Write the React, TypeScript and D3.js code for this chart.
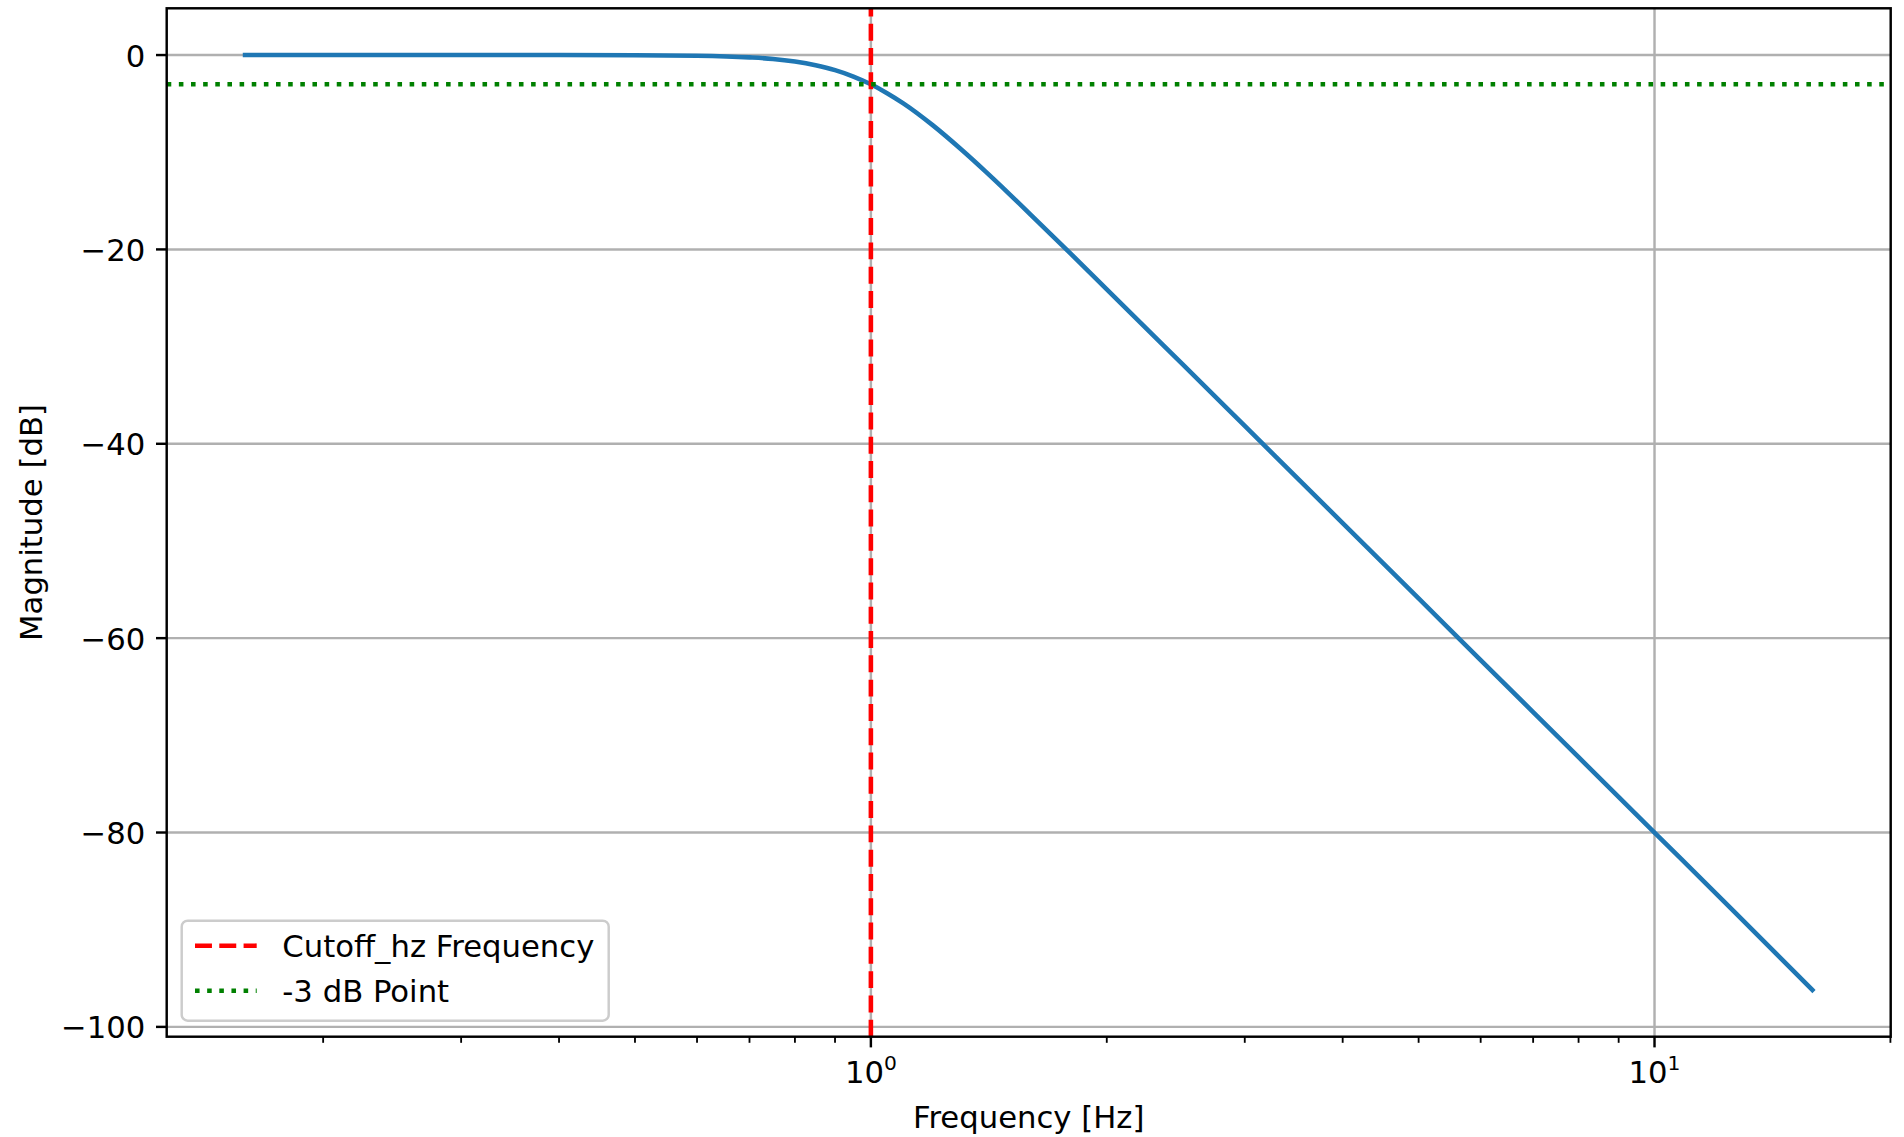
import React from "react";
import * as d3 from "d3";

// ---- data ----
const freqHz = [0.159, 0.2, 0.3, 0.4, 0.5, 0.6, 0.7, 0.75, 0.8, 0.85, 0.9, 0.95, 1.0, 1.05, 1.1, 1.2, 1.3, 1.4, 1.5, 1.6, 1.8, 2.0, 2.5, 3.0, 4.0, 5.0, 6.0, 8.0, 10.0, 12.6, 15.9];
const magnitudeDb = [0.0, 0.0, 0.0, -0.003, -0.017, -0.07, -0.24, -0.4, -0.67, -1.05, -1.55, -2.21, -3.01, -3.95, -4.97, -7.24, -9.62, -11.97, -14.25, -16.44, -20.46, -24.1, -31.84, -38.17, -48.16, -55.92, -62.25, -72.25, -80.0, -88.03, -96.2];
const cutoffHz = 1;
const minus3Db = -3;
const yTickValues = [0, -20, -40, -60, -80, -100];
const xMajorExponents = [0, 1];
const legendLabels = ["Cutoff_hz Frequency", "-3 dB Point"];
const xLabel = "Frequency [Hz]";
const yLabel = "Magnitude [dB]";

const W = 1904;
const H = 1137;
const LEFT = 166.7;
const RIGHT = 1890.7;
const TOP = 8.3;
const BOTTOM = 1036.7;
const FONT = "'DejaVu Sans', sans-serif";
const FS = 30.7;
const PT = 220 / 72;

export default function App() {
  const lx = freqHz.map((f) => Math.log10(f));
  const lmin = d3.min(lx)!;
  const lmax = d3.max(lx)!;
  const lspan = lmax - lmin;
  const x = d3
    .scaleLog()
    .domain([Math.pow(10, lmin - 0.05 * lspan), Math.pow(10, lmax + 0.05 * lspan)])
    .range([LEFT, RIGHT]);
  const ymin = d3.min(magnitudeDb)!;
  const ymax = d3.max(magnitudeDb)!;
  const yspan = ymax - ymin;
  const y = d3
    .scaleLinear()
    .domain([ymin - 0.05 * yspan, ymax + 0.05 * yspan])
    .range([BOTTOM, TOP]);

  const [d0, d1] = x.domain();
  const minorTicks: number[] = [];
  for (let e = -2; e <= 2; e++) {
    for (let k = 2; k <= 9; k++) {
      const v = k * Math.pow(10, e);
      if (v >= d0 * 0.9999 && v <= d1 * 1.0001) minorTicks.push(v);
    }
  }
  const majorTicks = xMajorExponents.map((e) => Math.pow(10, e));

  const pts: [number, number][] = freqHz.map((f, i) => [x(f), y(magnitudeDb[i])]);
  const line = d3.line().curve(d3.curveMonotoneX)(pts) || "";

  const gridColor = "#b0b0b0";
  const lw = 1.5 * PT;
  const redDash = `${3.7 * lw} ${1.6 * lw}`;
  const greenDash = `${1 * lw} ${1.65 * lw}`;

  const legX = 181.7, legY = 920.7, legW = 427, legH = 100;

  return (
    <svg
      width={W}
      height={H}
      style={{ position: "absolute", left: 0, top: 0, background: "#fff" }}
      fontFamily={FONT}
    >
      <rect x={0} y={0} width={W} height={H} fill="#fff" />
      <defs>
        <clipPath id="plotclip">
          <rect x={LEFT} y={TOP} width={RIGHT - LEFT} height={BOTTOM - TOP} />
        </clipPath>
      </defs>
      {/* grid */}
      <g stroke={gridColor} strokeWidth={0.8 * PT}>
        {yTickValues.map((v) => (
          <line key={"gy" + v} x1={LEFT} x2={RIGHT} y1={y(v)} y2={y(v)} />
        ))}
        {majorTicks.map((v) => (
          <line key={"gx" + v} x1={x(v)} x2={x(v)} y1={TOP} y2={BOTTOM} />
        ))}
      </g>
      <g clipPath="url(#plotclip)">
        <path d={line} fill="none" stroke="#1f77b4" strokeWidth={lw} strokeLinecap="square" strokeLinejoin="round" />
        <line
          x1={x(cutoffHz)}
          x2={x(cutoffHz)}
          y1={BOTTOM}
          y2={TOP}
          stroke="#ff0000"
          strokeWidth={lw}
          strokeDasharray={redDash}
        />
        <line
          x1={LEFT}
          x2={RIGHT}
          y1={y(minus3Db)}
          y2={y(minus3Db)}
          stroke="#008000"
          strokeWidth={lw}
          strokeDasharray={greenDash}
        />
      </g>
      {/* spines */}
      <rect x={LEFT} y={TOP} width={RIGHT - LEFT} height={BOTTOM - TOP} fill="none" stroke="#000" strokeWidth={0.8 * PT} />
      {/* y ticks */}
      {yTickValues.map((v) => (
        <g key={"yt" + v}>
          <line x1={LEFT - 3.5 * PT} x2={LEFT} y1={y(v)} y2={y(v)} stroke="#000" strokeWidth={0.8 * PT} />
          <text x={LEFT - 3.5 * PT - 3.5 * PT} y={y(v)} dy={11.5} textAnchor="end" fontSize={FS} fill="#000">
            {v < 0 ? "\u2212" + Math.abs(v) : String(v)}
          </text>
        </g>
      ))}
      {/* x ticks */}
      {minorTicks.map((v) => (
        <line key={"mt" + v} x1={x(v)} x2={x(v)} y1={BOTTOM} y2={BOTTOM + 2 * PT} stroke="#000" strokeWidth={0.6 * PT} />
      ))}
      {majorTicks.map((v, i) => (
        <g key={"xt" + v}>
          <line x1={x(v)} x2={x(v)} y1={BOTTOM} y2={BOTTOM + 3.5 * PT} stroke="#000" strokeWidth={0.8 * PT} />
          <text x={x(v)} y={1083.3} textAnchor="middle" fontSize={FS} fill="#000">
            10
            <tspan fontSize={FS * 0.66} dy={-13.3}>
              {String(xMajorExponents[i])}
            </tspan>
          </text>
        </g>
      ))}
      {/* axis labels */}
      <text x={(LEFT + RIGHT) / 2} y={1127.5} textAnchor="middle" fontSize={FS} fill="#000">
        {xLabel}
      </text>
      <text
        transform={`translate(41.7, ${(TOP + BOTTOM) / 2}) rotate(-90)`}
        textAnchor="middle"
        fontSize={FS}
        fill="#000"
      >
        {yLabel}
      </text>
      {/* legend */}
      <g>
        <rect
          x={legX}
          y={legY}
          width={legW}
          height={legH}
          rx={6}
          ry={6}
          fill="#fff"
          fillOpacity={0.8}
          stroke="#cccccc"
          strokeWidth={0.8 * PT}
        />
        <line x1={195} x2={256.7} y1={945.7} y2={945.7} stroke="#ff0000" strokeWidth={lw} strokeDasharray={redDash} />
        <line x1={195} x2={256.7} y1={990.7} y2={990.7} stroke="#008000" strokeWidth={lw} strokeDasharray={greenDash} />
        <text x={282.3} y={956.7} fontSize={FS} fill="#000">
          {legendLabels[0]}
        </text>
        <text x={282.3} y={1001.7} fontSize={FS} fill="#000">
          {legendLabels[1]}
        </text>
      </g>
    </svg>
  );
}
